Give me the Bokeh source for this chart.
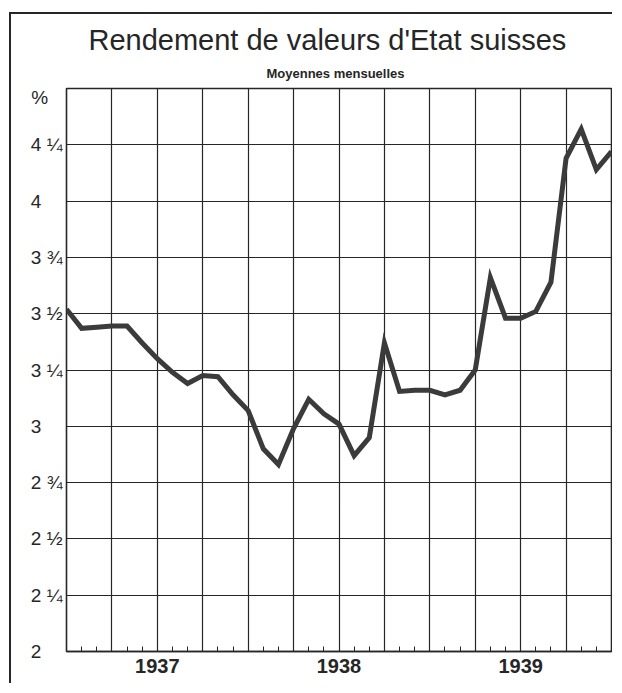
from bokeh.plotting import figure
from bokeh.models import Range1d, FixedTicker, Title
from bokeh.embed import file_html
from bokeh.resources import INLINE

# ---- data (monthly averages, Jan 1937 .. Jan 1940 marks) ----
months = list(range(37))
yield_pct = [3.52, 3.435, 3.44, 3.445, 3.445, 3.37, 3.30, 3.24, 3.19, 3.225,
             3.22, 3.14, 3.07, 2.90, 2.83, 2.99, 3.12, 3.055, 3.01, 2.87,
             2.95, 3.37, 3.155, 3.16, 3.16, 3.14, 3.16, 3.25, 3.66, 3.48,
             3.48, 3.51, 3.64, 4.19, 4.32, 4.14, 4.22]

y_ticks = [2.0, 2.25, 2.5, 2.75, 3.0, 3.25, 3.5, 3.75, 4.0, 4.25]
# figure spaces (U+2007) keep whole numbers left aligned with the fractions
y_tick_labels = ["2\u2007\u2007", "2 \u00bc", "2 \u00bd", "2 \u00be", "3\u2007\u2007",
                 "3 \u00bc", "3 \u00bd", "3 \u00be", "4\u2007\u2007", "4 \u00bc"]
unit_pos = 4.46
unit_label = "%\u2007\u2009"

years = ["1937", "1938", "1939"]
year_centers = [6, 18, 30]
quarter_lines = list(range(0, 37, 3))

title_text = "Rendement de valeurs d'Etat suisses"
subtitle_text = "Moyennes mensuelles"

INK = "#262626"
LINE = "#3b3b3b"

p = figure(width=603, height=671, x_range=Range1d(0, 36), y_range=Range1d(2, 4.5),
           output_backend="svg", toolbar_location=None,
           min_border_left=55, min_border_right=3, min_border_top=74, min_border_bottom=34)
p.styles = {"border-top": "2px solid #262626", "border-left": "2px solid #262626",
            "margin-top": "12px", "margin-left": "9px"}

p.background_fill_color = "white"
p.border_fill_color = "white"
p.outline_line_color = INK
p.outline_line_width = 1.6

# grids
p.xgrid.ticker = FixedTicker(ticks=quarter_lines)
p.xgrid.grid_line_color = INK
p.xgrid.grid_line_width = 1.2
p.ygrid.ticker = FixedTicker(ticks=y_ticks + [4.5])
p.ygrid.grid_line_color = INK
p.ygrid.grid_line_width = 1.2

# x axis: year labels, monthly minor ticks inside
p.xaxis.ticker = FixedTicker(ticks=year_centers, minor_ticks=months)
p.xaxis.major_label_overrides = {c: t for c, t in zip(year_centers, years)}
p.xaxis.major_label_text_font = "Liberation Sans"
p.xaxis.major_label_text_font_style = "bold"
p.xaxis.major_label_text_font_size = "20px"
p.xaxis.major_label_text_color = INK
p.xaxis.major_label_standoff = 7
p.xaxis.major_tick_in = 0
p.xaxis.major_tick_out = 0
p.xaxis.minor_tick_in = 5
p.xaxis.minor_tick_out = 0
p.xaxis.minor_tick_line_color = INK
p.xaxis.axis_line_color = INK
p.xaxis.axis_line_width = 1.6

# y axis: fractional labels
p.yaxis.ticker = FixedTicker(ticks=y_ticks + [unit_pos], minor_ticks=[])
p.yaxis.major_label_overrides = {**{v: t for v, t in zip(y_ticks, y_tick_labels)},
                                 unit_pos: unit_label}
p.yaxis.major_label_standoff = 4
p.yaxis.major_label_text_font = "Liberation Sans"
p.yaxis.major_label_text_font_size = "19px"
p.yaxis.major_label_text_color = INK
p.yaxis.major_tick_in = 0
p.yaxis.major_tick_out = 0
p.yaxis.axis_line_color = None

# series
p.line(months, yield_pct, line_color=LINE, line_width=5, line_join="miter")

# titles
p.add_layout(Title(text=subtitle_text, align="left", offset=200, standoff=16,
                   text_font="Liberation Sans", text_font_style="bold",
                   text_font_size="13px", text_color=INK), "above")
p.add_layout(Title(text=title_text, align="left", offset=22, standoff=0,
                   text_font="Liberation Sans", text_font_style="normal",
                   text_font_size="29px", text_color=INK), "above")

open("out.html", "w").write(file_html(p, INLINE))
